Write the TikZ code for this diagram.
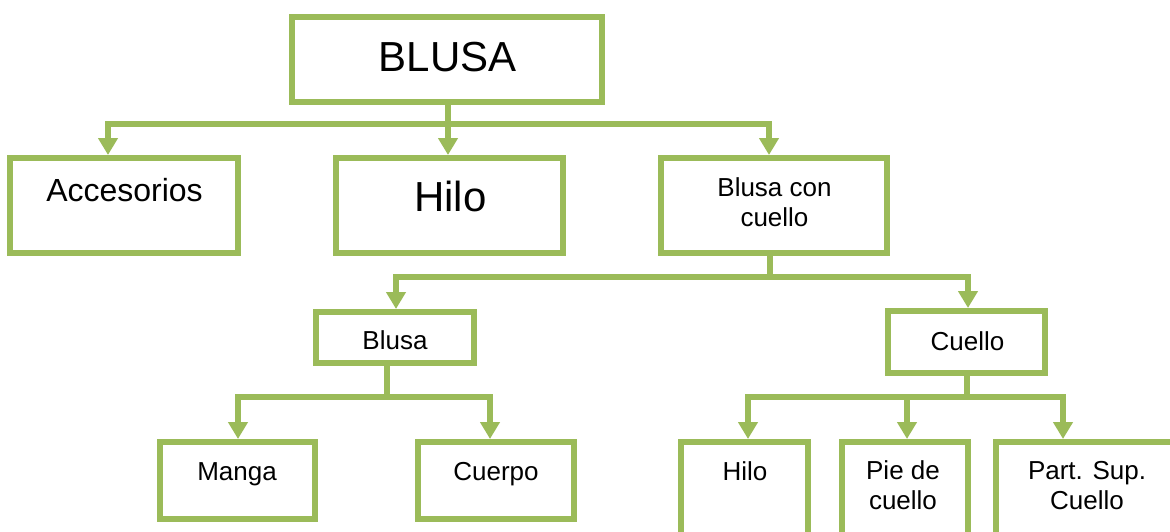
\documentclass[tikz,border=0pt]{standalone}
\usepackage{fontspec}
\setmainfont{Liberation Sans}
\usetikzlibrary{arrows.meta}
\definecolor{leaf}{HTML}{9BBB59}
\begin{document}
\begin{tikzpicture}[x=1pt,y=-1pt,
  box/.style={rectangle, draw=leaf, line width=6pt, fill=white, inner sep=0pt},
  conn/.style={draw=leaf, line width=6pt},
  arr/.style={conn, -{Triangle[width=19pt,length=17pt]}},
  txt/.style={anchor=base, inner sep=0pt, align=center, font=\fontsize{26}{30}\selectfont},
  big/.style={txt, font=\fontsize{42}{48}\selectfont},
  mid/.style={txt, font=\fontsize{32}{37}\selectfont}]
\useasboundingbox (0,0) rectangle (1170,531);
\clip (0,0) rectangle (1170,531);
% boxes
\node[box, minimum width=310pt, minimum height=85pt] (top) at (447,59.5) {};
\node[box, minimum width=228pt, minimum height=95pt] (acc) at (124,205.5) {};
\node[box, minimum width=227pt, minimum height=95pt] (hilo) at (449.5,205.5) {};
\node[box, minimum width=226pt, minimum height=95pt] (bcc) at (774,205.5) {};
\node[box, minimum width=158pt, minimum height=51pt] (blusa) at (395,337.5) {};
\node[box, minimum width=157pt, minimum height=62pt] (cuello) at (966.5,342) {};
\node[box, minimum width=155pt, minimum height=77pt] (manga) at (237.5,480.5) {};
\node[box, minimum width=156pt, minimum height=77pt] (cuerpo) at (496,480.5) {};
\node[box, minimum width=127pt, minimum height=116pt] (hilo2) at (744.5,500) {};
\node[box, minimum width=126pt, minimum height=116pt] (pie) at (905,500) {};
\node[box, minimum width=182pt, minimum height=116pt] (part) at (1087,500) {};
% junctions
\coordinate (j1) at (448,124);
\coordinate (j2) at (770,277);
\coordinate (j3) at (387,397);
\coordinate (j4) at (967,397);
% connectors
\draw[conn] (j1 |- top.south) -- (j1);
\draw[arr] (j1) -| ([xshift=-16pt]acc.north);
\draw[arr] (j1) -- (j1 |- hilo.north);
\draw[arr] (j1) -| ([xshift=-5pt]bcc.north);
\draw[conn] (j2 |- bcc.south) -- (j2);
\draw[arr] (j2) -| ([xshift=1pt]blusa.north);
\draw[arr] (j2) -| ([xshift=1.5pt]cuello.north);
\draw[conn] (j3 |- blusa.south) -- (j3);
\draw[arr] (j3) -| ([xshift=0.5pt]manga.north);
\draw[arr] (j3) -| ([xshift=-6pt]cuerpo.north);
\draw[conn] (j4 |- cuello.south) -- (j4);
\draw[arr] (j4) -| ([xshift=3.5pt]hilo2.north);
\draw[arr] (j4) -| ([xshift=2pt]pie.north);
\draw[arr] (j4) -| ([xshift=-24pt]part.north);
% texts
\node[big] (tTop) at (447.5,71) {BLUSA};
\node[mid] (tAcc) at (124.5,201) {Accesorios};
\node[big] (tHilo) at (450.5,211) {Hilo};
\node[txt] (tBcc) at (774.5,226) {Blusa con\\cuello};
\node[txt] (tBlusa) at (395,349) {Blusa};
\node[txt] (tCuello) at (967.5,350) {Cuello};
\node[txt] (tManga) at (237,480) {Manga};
\node[txt] (tCuerpo) at (496,480) {Cuerpo};
\node[txt] (tHilo2) at (745,480) {Hilo};
\node[txt] (tPie) at (903,509) {Pie de\\cuello};
\node[txt] (tPart) at (1087,509) {Part. Sup.\\Cuello};
\end{tikzpicture}
\end{document}
